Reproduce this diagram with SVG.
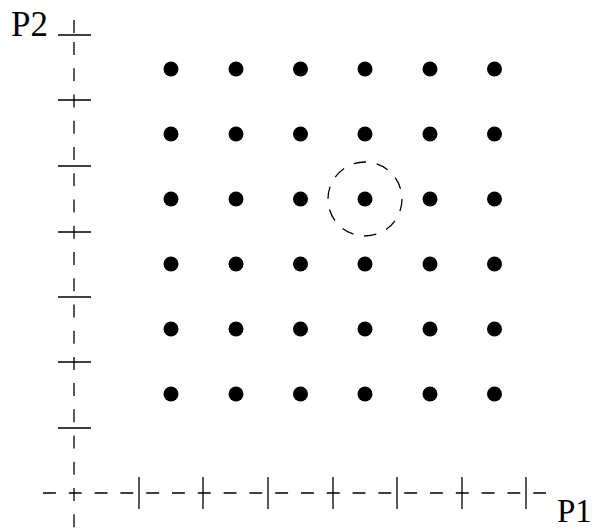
<svg xmlns="http://www.w3.org/2000/svg" width="594" height="530" viewBox="0 0 594 530">
<style>
.ax{stroke:#000;stroke-width:1.3;fill:none}
.vd{stroke-dasharray:13 13.24}
.hd{stroke-dasharray:12.9 12.9}
.tk{stroke:#000;stroke-width:1.3}
.dot{fill:#000}
.lbl{font-family:"Liberation Serif",serif;font-size:35px;fill:#000}
.ring{fill:none;stroke:#000;stroke-width:1.3;stroke-dasharray:12.4 10.85}
</style>
<rect width="594" height="530" fill="#fff"/>
<g id="axes">
<line class="ax" x1="74" y1="20" x2="74" y2="33"/>
<line class="ax vd" x1="74" y1="42" x2="74" y2="530"/>
<line class="ax hd" x1="43" y1="493" x2="546" y2="493"/>
<g class="tk">
<line x1="58" y1="35" x2="91" y2="35"/>
<line x1="58" y1="100" x2="91" y2="100"/>
<line x1="58" y1="166" x2="91" y2="166"/>
<line x1="58" y1="232" x2="91" y2="232"/>
<line x1="58" y1="297" x2="91" y2="297"/>
<line x1="58" y1="362" x2="91" y2="362"/>
<line x1="58" y1="428" x2="91" y2="428"/>
<line x1="139" y1="477" x2="139" y2="509"/>
<line x1="203" y1="477" x2="203" y2="509"/>
<line x1="268" y1="477" x2="268" y2="509"/>
<line x1="333" y1="477" x2="333" y2="509"/>
<line x1="397" y1="477" x2="397" y2="509"/>
<line x1="462" y1="477" x2="462" y2="509"/>
<line x1="526" y1="477" x2="526" y2="509"/>
</g>
<text class="lbl" x="11" y="36">P2</text>
<text class="lbl" x="557" y="522" style="font-size:33px">P1</text>
</g>
<g id="points">
<g id="r1"><circle class="dot" cx="171" cy="69" r="7.5"/><circle class="dot" cx="236" cy="69" r="7.5"/><circle class="dot" cx="300.5" cy="69" r="7.5"/><circle class="dot" cx="365" cy="69" r="7.5"/><circle class="dot" cx="430" cy="69" r="7.5"/><circle class="dot" cx="494.5" cy="69" r="7.5"/></g>
<g id="r2"><circle class="dot" cx="171" cy="134" r="7.5"/><circle class="dot" cx="236" cy="134" r="7.5"/><circle class="dot" cx="300.5" cy="134" r="7.5"/><circle class="dot" cx="365" cy="134" r="7.5"/><circle class="dot" cx="430" cy="134" r="7.5"/><circle class="dot" cx="494.5" cy="134" r="7.5"/></g>
<g id="r3"><circle class="dot" cx="171" cy="199" r="7.5"/><circle class="dot" cx="236" cy="199" r="7.5"/><circle class="dot" cx="300.5" cy="199" r="7.5"/><circle class="dot" cx="365" cy="199" r="7.5"/><circle class="dot" cx="430" cy="199" r="7.5"/><circle class="dot" cx="494.5" cy="199" r="7.5"/></g>
<g id="r4"><circle class="dot" cx="171" cy="264" r="7.5"/><circle class="dot" cx="236" cy="264" r="7.5"/><circle class="dot" cx="300.5" cy="264" r="7.5"/><circle class="dot" cx="365" cy="264" r="7.5"/><circle class="dot" cx="430" cy="264" r="7.5"/><circle class="dot" cx="494.5" cy="264" r="7.5"/></g>
<g id="r5"><circle class="dot" cx="171" cy="329" r="7.5"/><circle class="dot" cx="236" cy="329" r="7.5"/><circle class="dot" cx="300.5" cy="329" r="7.5"/><circle class="dot" cx="365" cy="329" r="7.5"/><circle class="dot" cx="430" cy="329" r="7.5"/><circle class="dot" cx="494.5" cy="329" r="7.5"/></g>
<g id="r6"><circle class="dot" cx="171" cy="394" r="7.5"/><circle class="dot" cx="236" cy="394" r="7.5"/><circle class="dot" cx="300.5" cy="394" r="7.5"/><circle class="dot" cx="365" cy="394" r="7.5"/><circle class="dot" cx="430" cy="394" r="7.5"/><circle class="dot" cx="494.5" cy="394" r="7.5"/></g>
</g>
<g id="highlight">
<circle class="ring" cx="365" cy="199" r="37"/>
</g>
</svg>
